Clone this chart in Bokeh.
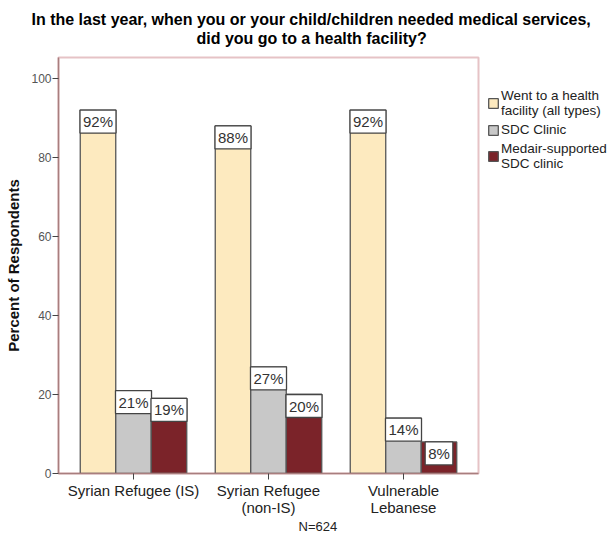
from bokeh.plotting import figure
from bokeh.models import Label, Legend, LegendItem, FixedTicker, Range1d, ColumnDataSource, Title
from bokeh.embed import file_html
from bokeh.resources import INLINE

# ---- data ----
groups = ["Syrian Refugee (IS)", "Syrian Refugee\n(non-IS)", "Vulnerable\nLebanese"]
went_facility = [92, 88, 92]
sdc_clinic = [21, 27, 14]
medair_sdc = [19, 20, 8]
series_names = ["Went to a health\nfacility (all types)", "SDC Clinic", "Medair-supported\nSDC clinic"]
series_colors = ["#fdeabf", "#c8c8c8", "#7b2329"]
y_ticks = [0, 20, 40, 60, 80, 100]
title_lines = ["In the last year, when you or your child/children needed medical services,",
               "did you go to a health facility?"]
y_label = "Percent of Respondents"
n_label = "N=624"

FONT = "Liberation Sans"
BAR_W = 0.263
positions = [1, 2, 3]

p = figure(frame_width=420, frame_height=416,
           x_range=Range1d(0.4444, 3.5556), y_range=Range1d(0, 105.32),
           output_backend="svg", toolbar_location=None,
           min_border_left=58, min_border_top=57, min_border_bottom=61, min_border_right=131)

p.background_fill_color = "white"
p.border_fill_color = "white"
p.outline_line_color = "#e6c3c6"
p.outline_line_width = 2
p.xgrid.visible = False
p.ygrid.visible = False

all_series = [went_facility, sdc_clinic, medair_sdc]
renderers = []
for k, (vals, col) in enumerate(zip(all_series, series_colors)):
    xs = [pos + (k - 1) * BAR_W for pos in positions]
    src = ColumnDataSource(dict(x=xs, top=vals))
    r = p.vbar(x="x", top="top", bottom=0, width=BAR_W, source=src,
               fill_color=col, line_color="#555555", line_width=1.3)
    renderers.append(r)
    for xv, v in zip(xs, vals):
        p.add_layout(Label(x=xv, y=v, text=f"{v}%", text_align="center", text_baseline="top",
                           text_font=FONT, text_font_size="15px", text_color="#333333",
                           background_fill_color="white", border_line_color="#444444",
                           border_line_width=1.3, padding=3))

# axes
p.yaxis.ticker = FixedTicker(ticks=y_ticks)
p.yaxis.axis_line_color = "#a87e7e"
p.yaxis.axis_line_width = 1.5
p.yaxis.major_tick_out = 6
p.yaxis.major_tick_in = 0
p.yaxis.minor_tick_line_color = None
p.yaxis.major_tick_line_color = "#444444"
p.yaxis.major_label_text_font = FONT
p.yaxis.major_label_text_font_size = "12px"
p.yaxis.major_label_text_color = "#555555"
p.yaxis.major_label_standoff = 1
p.yaxis.axis_label = y_label
p.yaxis.axis_label_text_font = FONT
p.yaxis.axis_label_text_font_size = "15px"
p.yaxis.axis_label_text_font_style = "bold"
p.yaxis.axis_label_text_color = "#111111"
p.yaxis.axis_label_standoff = 6

p.xaxis.ticker = FixedTicker(ticks=positions)
p.xaxis.major_label_overrides = {pos: g for pos, g in zip(positions, groups)}
p.xaxis.axis_line_color = "#a87e7e"
p.xaxis.axis_line_width = 1.5
p.xaxis.major_tick_out = 6
p.xaxis.major_tick_in = 0
p.xaxis.minor_tick_line_color = None
p.xaxis.major_tick_line_color = "#444444"
p.xaxis.major_label_text_font = FONT
p.xaxis.major_label_text_font_size = "15px"
p.xaxis.major_label_text_color = "#222222"
p.xaxis.major_label_text_line_height = 1.05
p.xaxis.major_label_standoff = 2

# titles: p.title is the outer line, the added one sits nearest the frame
p.title.text = title_lines[0]
p.title.align = "left"
p.title.offset = -27
p.title.standoff = -20
p.title.text_font = FONT
p.title.text_font_size = "16px"
p.title.text_font_style = "bold"
p.title.text_color = "#000000"
p.add_layout(Title(text=title_lines[1], align="left", offset=138, standoff=21,
                   text_font=FONT, text_font_size="16px", text_font_style="bold",
                   text_color="#000000"), "above")

p.add_layout(Title(text=n_label, align="left", offset=240, standoff=-5,
                   text_font=FONT, text_font_size="13px", text_font_style="normal",
                   text_color="#222222"), "below")

legend = Legend(items=[LegendItem(label=n, renderers=[r]) for n, r in zip(series_names, renderers)],
                location=(9, 302), padding=0, margin=0, spacing=4,
                glyph_width=12, glyph_height=12, label_standoff=2, label_height=12,
                label_text_font=FONT, label_text_font_size="13.5px", label_text_line_height=1.07,
                label_text_color="#222222", border_line_color=None, background_fill_alpha=0)
p.add_layout(legend, "right")

open("out.html", "w").write(file_html(p, INLINE))
